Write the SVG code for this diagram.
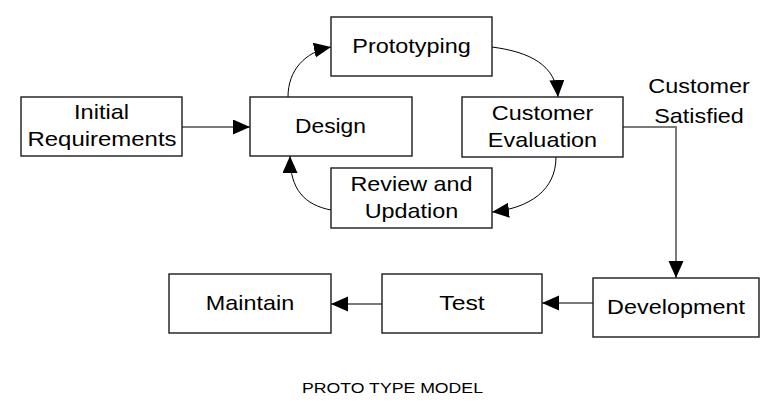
<svg xmlns="http://www.w3.org/2000/svg" width="784" height="407" viewBox="0 0 784 407">
<style>
.box{fill:#fff;stroke:#1a1a1a;stroke-width:1.4}
.t{font-family:"Liberation Sans",Arial,sans-serif;font-size:21px;fill:#000;text-anchor:middle}
.straight{fill:none;stroke:#7a7a7a;stroke-width:2}
.curve{fill:none;stroke:#000;stroke-width:1}
</style>
<defs>
<marker id="ah" markerUnits="userSpaceOnUse" markerWidth="18" markerHeight="16" refX="17" refY="7.5" orient="auto" viewBox="0 0 18 16">
<path d="M0,0 L17,7.5 L0,15 z" fill="#000"/>
</marker>
</defs>
<rect width="784" height="407" fill="#fff"/>
<g id="connectors">
<path class="straight" d="M182,127 H250" marker-end="url(#ah)"/>
<path class="curve" d="M288,97 C288,70 305,52 331,47" marker-end="url(#ah)"/>
<path class="curve" d="M492,47 C530,52 556,65 558,97" marker-end="url(#ah)"/>
<path class="curve" d="M556,157 C556,190 530,208 492,212" marker-end="url(#ah)"/>
<path class="curve" d="M331,210 C305,205 290,190 290,156" marker-end="url(#ah)"/>
<path class="straight" d="M623,127 H676 V278" marker-end="url(#ah)"/>
<path class="straight" d="M593,303 H542" marker-end="url(#ah)"/>
<path class="straight" d="M382,304 H331" marker-end="url(#ah)"/>
</g>
<g id="initial">
<rect class="box" x="21" y="97" width="161" height="59"/>
<text class="t" x="101.5" y="119" textLength="55" lengthAdjust="spacingAndGlyphs">Initial</text>
<text class="t" x="102" y="145.5" textLength="149" lengthAdjust="spacingAndGlyphs">Requirements</text>
</g>
<g id="design">
<rect class="box" x="250" y="97" width="162" height="59"/>
<text class="t" x="330.5" y="133" textLength="71" lengthAdjust="spacingAndGlyphs">Design</text>
</g>
<g id="prototyping">
<rect class="box" x="331" y="17" width="161" height="59"/>
<text class="t" x="411.5" y="53" textLength="118.4" lengthAdjust="spacingAndGlyphs">Prototyping</text>
</g>
<g id="evaluation">
<rect class="box" x="462" y="97" width="161" height="60"/>
<text class="t" x="542.5" y="119.5" textLength="101.4" lengthAdjust="spacingAndGlyphs">Customer</text>
<text class="t" x="542.5" y="146.5" textLength="109.3" lengthAdjust="spacingAndGlyphs">Evaluation</text>
</g>
<g id="review">
<rect class="box" x="331" y="168" width="161" height="60"/>
<text class="t" x="411.5" y="190.5" textLength="122.2" lengthAdjust="spacingAndGlyphs">Review and</text>
<text class="t" x="411.5" y="217.5" textLength="93.6" lengthAdjust="spacingAndGlyphs">Updation</text>
</g>
<g id="satisfied-label">
<text class="t" x="699" y="93" textLength="101.4" lengthAdjust="spacingAndGlyphs">Customer</text>
<text class="t" x="699" y="123" textLength="89.7" lengthAdjust="spacingAndGlyphs">Satisfied</text>
</g>
<g id="development">
<rect class="box" x="593" y="278" width="166" height="59"/>
<text class="t" x="676" y="314" textLength="137.8" lengthAdjust="spacingAndGlyphs">Development</text>
</g>
<g id="test">
<rect class="box" x="382" y="274" width="160" height="59"/>
<text class="t" x="462" y="310" textLength="45.5" lengthAdjust="spacingAndGlyphs">Test</text>
</g>
<g id="maintain">
<rect class="box" x="169" y="274" width="162" height="59"/>
<text class="t" x="250" y="310" textLength="88.4" lengthAdjust="spacingAndGlyphs">Maintain</text>
</g>
<g id="title">
<text class="t" x="392.5" y="393" style="font-size:15.5px" textLength="181" lengthAdjust="spacingAndGlyphs">PROTO TYPE MODEL</text>
</g>
</svg>
